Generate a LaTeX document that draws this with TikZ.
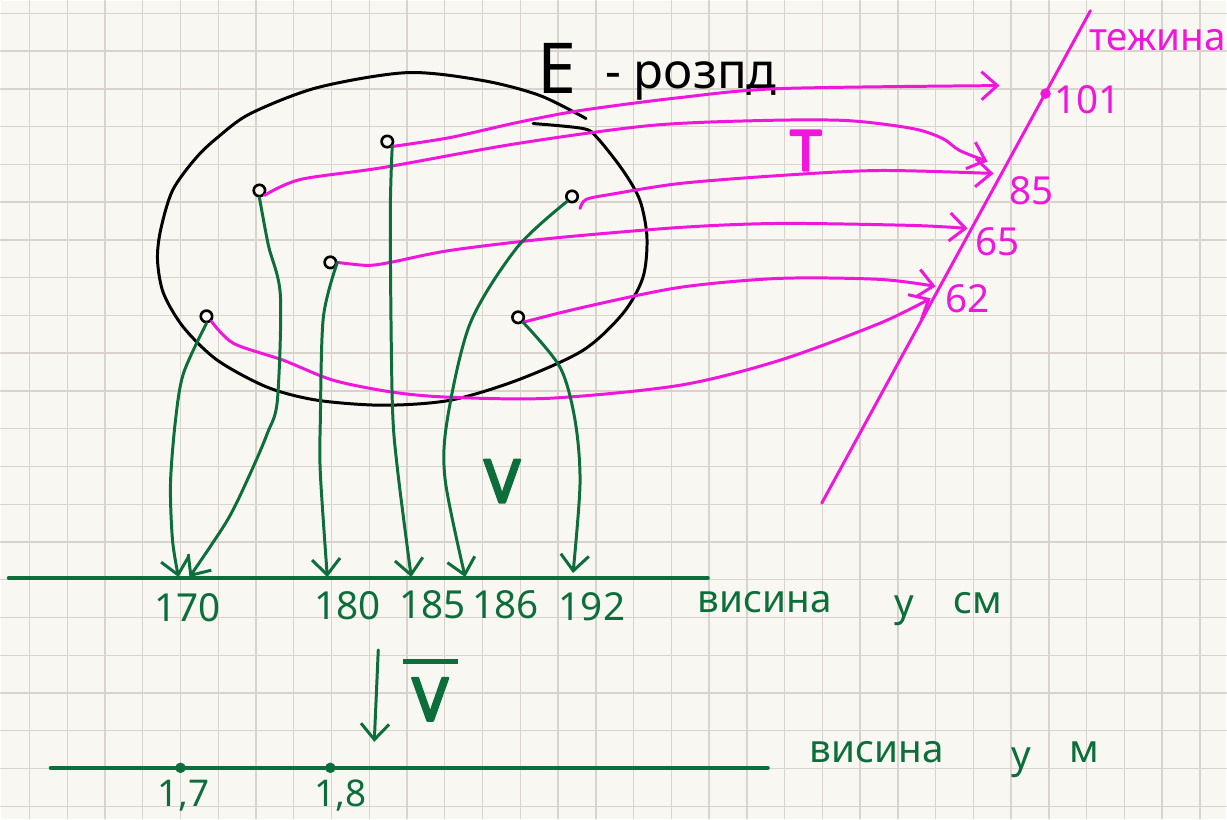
\documentclass[tikz,border=0pt]{standalone}
\usepackage{fontspec}
\setmainfont{Noto Sans}
\newfontfamily\heavyfont[FakeBold=4]{Noto Sans}
\usetikzlibrary{arrows.meta}
\definecolor{paper}{RGB}{249,247,241}
\definecolor{gridc}{RGB}{216,212,205}
\definecolor{pinkT}{RGB}{240,22,220}
\definecolor{greenV}{RGB}{12,110,58}

\begin{document}
\begin{tikzpicture}[x=0.02cm,y=-0.02cm,line width=1.7pt,line cap=round,line join=round,
  >={Straight Barb[length=9pt,width=16pt]},
  gridline/.style={gridc,line width=0.8pt},
  elem/.style={circle,draw=black,line width=1.5pt,fill=paper,inner sep=0pt,minimum size=6.5pt},
  tmap/.style={pinkT,->},
  vmap/.style={greenV,->},
  lblT/.style={text=pinkT,font=\fontsize{22}{26}\selectfont},
  lblV/.style={text=greenV,font=\fontsize{22}{26}\selectfont}]
  \def\gx{28.8}  % first vertical grid line
  \def\gy{12.7}  % first horizontal grid line
  \def\gs{37.8}  % grid step

  % ================= paper =================
  \fill[paper] (0,0) rectangle (1227,819);
  \foreach \i in {0,...,31} \draw[gridline] ({\gx+\gs*\i},0) -- ({\gx+\gs*\i},819);
  \foreach \j in {0,...,21} \draw[gridline] (0,{\gy+\gs*\j}) -- (1227,{\gy+\gs*\j});
  \useasboundingbox (0,0) rectangle (1227,819);

  % ================= set E =================
  \draw[black] plot[smooth] coordinates {(533,123) (583,128) (597,137) (623,170) (640,200)
    (647,237) (643,277) (623,313) (583,350) (517,380) (450,400) (383,405) (317,400)
    (267,387) (217,360) (183,327) (163,293) (157,260) (160,230) (172,190) (195,158)
    (217,137) (250,113) (317,87) (407,72) (483,80) (540,95) (586,118)};
  \node[font=\fontsize{40}{44}\selectfont] (eset) at (557,68) {E};
  \node[font=\fontsize{28}{32}\selectfont,anchor=west] (elab) at (598,80) {- розпд};

  \node[elem] (e1) at (387,141) {};
  \node[elem] (e2) at (259,190) {};
  \node[elem] (e3) at (572,196) {};
  \node[elem] (e4) at (330,262) {};
  \node[elem] (e5) at (518,317) {};
  \node[elem] (e6) at (206,316) {};

  % ================= axis T (weight) =================
  \coordinate (tbot) at (822,503);
  \coordinate (ttop) at (1091,10);
  \draw[pinkT] (tbot) -- (ttop);
  \node[circle,fill=pinkT,inner sep=0pt,minimum size=6pt] (t101) at (1046,93) {};
  \node[lblT] (l101) at (1088,99) {101};
  \node[lblT] (l85) at (1032,190) {85};
  \node[lblT] (l65) at (998,241) {65};
  \node[lblT] (l62) at (968,298) {62};
  \node[lblT] (tname) at (1158,40) {тежина};
  \node[text=pinkT,font=\heavyfont\fontsize{32}{36}\selectfont] (tmapname) at (806,150) {T};

  \coordinate (a101) at (1000,85);
  \coordinate (a85a) at (988,161);
  \coordinate (a85b) at (994,173);
  \coordinate (a65) at (968,228);
  \coordinate (a62a) at (936,286);
  \coordinate (a62b) at (931,298);

  \draw[tmap] plot[smooth] coordinates {(e1.south east) (450,137) (517,122) (580,110) (680,97) (780,88) (a101)};
  \draw[tmap] plot[smooth] coordinates {(e2.south east) (300,179) (383,167) (517,143) (650,125) (760,120) (847,120) (913,128) (943,138) (960,150) (a85a)};
  \draw[tmap] plot[smooth] coordinates {(580,208) (586,199) (610,194) (680,183) (780,175) (880,170) (a85b)};
  \draw[tmap] plot[smooth] coordinates {(e4.east) (367,265) (390,262) (450,250) (550,238) (680,227) (780,223) (913,225) (a65)};
  \draw[tmap] plot[smooth] coordinates {(e5.south east) (583,307) (680,287) (780,278) (880,279) (a62a)};
  \draw[tmap] plot[smooth] coordinates {(e6.south east) (233,343) (283,360) (333,380) (393,392) (450,397) (550,398) (680,385) (780,360) (880,323) (a62b)};

  % ================= axis V (height, cm) =================
  \coordinate (vleft) at (8,578);
  \coordinate (vright) at (708,578);
  \draw[greenV,line width=2.2pt] (vleft) -- (vright);
  \node[lblV] (l170) at (187,608) {170};
  \node[lblV] (l180) at (347,606) {180};
  \node[lblV] (l185) at (432,605) {185};
  \node[lblV] (l186) at (505,605) {186};
  \node[lblV] (l192) at (592,607) {192};
  \node[lblV] (vname) at (765,602) {висина};
  \node[lblV] (vu) at (905,611) {у};
  \node[lblV] (vcm) at (978,603) {см};
  \node[text=greenV,font=\heavyfont\fontsize{34}{38}\selectfont] (vmapname) at (502,481) {V};

  \coordinate (h170a) at (178,577);
  \coordinate (h170b) at (189,577);
  \coordinate (h180) at (327,577);
  \coordinate (h185) at (411,577);
  \coordinate (h186) at (465,577);
  \coordinate (h192) at (573,573);

  \draw[vmap] plot[smooth] coordinates {(e6.south) (183,373) (175,420) (170,483) (172,540) (h170a)};
  \draw[vmap] plot[smooth] coordinates {(e2.south) (268,245) (280,295) (277,400) (267,433) (250,473) (227,520) (h170b)};
  \draw[vmap] plot[smooth] coordinates {(e4.east) (323,317) (320,420) (320,473) (h180)};
  \draw[vmap] plot[smooth] coordinates {(e1.south east) (390,220) (392,400) (397,467) (h185)};
  \draw[vmap] plot[smooth] coordinates {(e3.south west) (517,247) (470,323) (447,420) (445,480) (h186)};
  \draw[vmap] plot[smooth] coordinates {(e5.south east) (560,367) (575,420) (580,483) (h192)};

  % ================= axis V bar (height, m) =================
  \coordinate (bar1) at (378,650);
  \coordinate (bar2) at (374,742);
  \draw[vmap] (bar1) -- (bar2);
  \node[text=greenV,font=\heavyfont\fontsize{34}{38}\selectfont,align=center,inner sep=0pt]
    (vbar) at (430,690) {\rule{1.1cm}{3pt}\\[-6pt]V};

  \coordinate (mleft) at (50,768);
  \coordinate (mright) at (768,768);
  \draw[greenV,line width=2.2pt] (mleft) -- (mright);
  \node[circle,fill=greenV,inner sep=0pt,minimum size=6pt] (m17) at (180,768) {};
  \node[circle,fill=greenV,inner sep=0pt,minimum size=6pt] (m18) at (330,768) {};
  \node[lblV,font=\fontsize{21}{24}\selectfont] (l17) at (183,796) {1,7};
  \node[lblV,font=\fontsize{21}{24}\selectfont] (l18) at (340,796) {1,8};
  \node[lblV] (mname) at (877,752) {висина};
  \node[lblV] (mu) at (1022,763) {у};
  \node[lblV] (mm) at (1085,752) {м};
\end{tikzpicture}
\end{document}
